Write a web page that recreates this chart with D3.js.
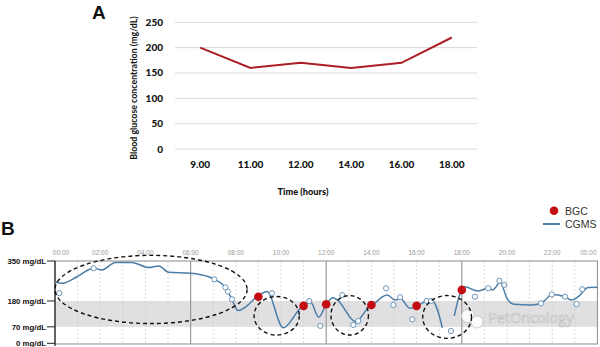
<!DOCTYPE html>
<html><head><meta charset="utf-8">
<script src="https://cdn.jsdelivr.net/npm/d3@7/dist/d3.min.js"></script>
<style>body{margin:0;background:#fff}svg{display:block}</style>
</head><body>
<svg id="c" width="600" height="347"></svg>
<script>
// ---------- Panel A data ----------
const timesA = ["9.00","11.00","12.00","14.00","16.00","18.00"];
const glucoseA = [200,160,170,160,170,220];
const yTicksA = [0,50,100,150,200,250];

// ---------- Panel B data ----------
const hourTicks = [0,2,4,6,8,10,12,14,16,18,20,22,24];
const hourTickLabels = ["00:00","02:00","04:00","06:00","08:00","10:00","12:00","14:00","16:00","18:00","20:00","22:00","00:00"];
const yTicksB = [0,70,180,350];
const yTickLabelsB = ["0 mg/dL","70 mg/dL","180 mg/dL","350 mg/dL"];
const targetRange = [70,180];
// CGMS trace: [hour, mg/dL]; null = gap in sensor data
const cgmsHours = [0,0.31,0.97,1.71,2.08,2.67,3.4,4.15,4.59,5.03,5.99,6.8,7.05,7.54,7.65,7.83,8.1,8.35,8.94,9.38,10.1,10.86,11.0,11.3,11.67,12.0,12.3,12.5,13.3,13.85,14.05,14.7,15.05,15.3,15.7,16.05,16.37,16.7,17.14,17.4,17.67,17.9,18.0,18.13,18.7,19.15,19.37,19.7,20.0,20.3,21.1,21.5,21.69,21.97,22.57,22.86,23.15,23.6,24];
const cgmsValues = [262,255,283,319,312,344,344,322,329,302,298,283,272,238,220,187,139,149,198,220,66,149,159,177,111,166,194,184,92,149,163,205,184,188,149,159,177,180,66,null,117,205,227,241,222,234,227,259,191,166,163,170,184,208,198,184,198,237,238];
// open circles (sensor readings)
const readingHours = [0.19,1.71,7.05,7.54,7.65,7.83,9.6,11.25,11.74,12.71,13.2,13.42,14.65,14.97,15.27,15.81,16.45,16.64,17.52,18.58,19.17,19.66,19.88,21.5,21.98,22.57,23.08,23.33];
const readingValues = [213,319,272,238,220,187,213,180,74,205,78,95,234,163,196,102,180,180,52,198,234,266,248,170,208,198,167,230];
// BGC (blood glucose curve) measurements
const bgcHours = [9,11,12,14,16,18];
const bgcValues = [198,159,166,163,159,227];
// annotation ellipses: centre hour, centre mg/dL, half-width (hours), half-height (mg/dL)
const ellipseHours = [4.25,9.81,13.04,17.35];
const ellipseValues = [229,117,119,112];
const ellipseHalfW = [4.25,1.0,0.83,1.08];
const ellipseHalfH = [145,82,84,91];

const svg = d3.select("#c");
const fontA = "Lato, 'Open Sans', sans-serif";
const fontB = "'Liberation Sans', Arial, sans-serif";

// ================= Panel A =================
const xA = d3.scaleBand().domain(timesA).range([175,477]).padding(0);
const yA = d3.scaleLinear().domain([0,250]).range([149,22.3]);
const gA = svg.append("g");
gA.append("g").selectAll("line").data(yTicksA).join("line")
  .attr("x1",175).attr("x2",477).attr("y1",d=>yA(d)).attr("y2",d=>yA(d))
  .attr("stroke","#d9d9d9").attr("stroke-width",1);
gA.append("g").selectAll("text").data(yTicksA).join("text")
  .attr("x",163).attr("y",d=>yA(d)).attr("dy","0.35em").attr("text-anchor","end")
  .attr("font-family",fontA).attr("font-weight","900").attr("font-size",10).attr("fill","#111")
  .text(d=>d);
gA.append("g").selectAll("text").data(timesA).join("text")
  .attr("x",d=>xA(d)+xA.bandwidth()/2).attr("y",168).attr("text-anchor","middle")
  .attr("font-family",fontA).attr("font-weight","900").attr("font-size",10).attr("fill","#111")
  .text(d=>d);
gA.append("path").datum(glucoseA.map((v,i)=>[timesA[i],v]))
  .attr("fill","none").attr("stroke","#ad1f24").attr("stroke-width",2)
  .attr("d",d3.line().x(d=>xA(d[0])+xA.bandwidth()/2).y(d=>yA(d[1])));
gA.append("text").attr("x",303).attr("y",195).attr("text-anchor","middle")
  .attr("font-family",fontA).attr("font-weight","900").attr("font-size",9.2).attr("fill","#111")
  .text("Time (hours)");
gA.append("text").attr("transform","translate(137,88) rotate(-90)").attr("text-anchor","middle")
  .attr("font-family",fontA).attr("font-weight","bold").attr("font-size",8.8).attr("fill","#111")
  .text("Blood glucose concentration (mg/dL)");
svg.append("text").attr("x",92).attr("y",18.5).attr("font-family",fontB).attr("font-weight","bold")
  .attr("font-size",19).attr("fill","#111").text("A");

// ================= Panel B =================
const x0=55, x1=597.4, yTop=261, yBot=344;
const xB = d3.scaleLinear().domain([0,24]).range([x0,x1]);
const yB = d3.scaleLinear().domain([0,350]).range([343.3,261]);
const gB = svg.append("g");
svg.append("text").attr("x",1).attr("y",235).attr("font-family",fontB).attr("font-weight","bold")
  .attr("font-size",19).attr("fill","#111").text("B");

// target band
gB.append("rect").attr("x",x0).attr("width",x1-x0)
  .attr("y",yB(targetRange[1])).attr("height",yB(targetRange[0])-yB(targetRange[1]))
  .attr("fill","#e0e0e2");
// hour gridlines
const hours = d3.range(1,24);
gB.append("g").selectAll("line").data(hours).join("line")
  .attr("x1",d=>xB(d)).attr("x2",d=>xB(d)).attr("y1",yTop).attr("y2",yBot)
  .attr("stroke",d=>d%6===0?"#9a9a9a":"#d0cdc8")
  .attr("stroke-width",d=>d%6===0?1.2:0.8)
  .attr("stroke-dasharray",d=>d%6===0?null:"2,2");
// frame
gB.append("rect").attr("x",x0).attr("y",yTop).attr("width",x1-x0).attr("height",yBot-yTop)
  .attr("fill","none").attr("stroke","#8a8a8a").attr("stroke-width",1);
gB.append("line").attr("x1",x0).attr("x2",x0).attr("y1",yTop).attr("y2",yBot+2)
  .attr("stroke","#222").attr("stroke-width",1.2);
// y ticks
gB.append("g").selectAll("line").data(yTicksB).join("line")
  .attr("x1",47).attr("x2",x0).attr("y1",d=>yB(d)).attr("y2",d=>yB(d))
  .attr("stroke","#222").attr("stroke-width",1);
gB.append("g").selectAll("text").data(yTicksB).join("text")
  .attr("x",46).attr("y",d=>yB(d)).attr("dy","0.35em").attr("text-anchor","end")
  .attr("font-family",fontB).attr("font-weight","bold").attr("font-size",7.8).attr("fill","#111")
  .text((d,i)=>yTickLabelsB[i]);
// top hour labels
gB.append("g").selectAll("text").data(hourTicks).join("text")
  .attr("x",d=>Math.min(Math.max(xB(d),x0+6),x1-9)).attr("y",255).attr("text-anchor","middle")
  .attr("font-family",fontB).attr("font-size",6.5).attr("fill","#999")
  .text((d,i)=>hourTickLabels[i]);

// watermark
const wm = gB.append("g").attr("opacity",0.95);
wm.append("circle").attr("cx",468).attr("cy",316).attr("r",6.5).attr("fill","#fff").attr("stroke","#c0c0c0").attr("stroke-width",0.8);
wm.append("circle").attr("cx",477).attr("cy",322).attr("r",6).attr("fill","#fff").attr("stroke","#c0c0c0").attr("stroke-width",0.8);
wm.append("text").attr("x",488).attr("y",323).attr("font-family","'Open Sans', sans-serif").attr("font-size",14.5)
  .attr("fill","#fff").attr("stroke","#bdbdbd").attr("stroke-width",0.7).text("PetOncology");

// CGMS line
const cgms = cgmsHours.map((h,i)=>[h,cgmsValues[i]]);
gB.append("path").datum(cgms).attr("fill","none").attr("stroke","#4b7da6").attr("stroke-width",1.5)
  .attr("stroke-linejoin","round")
  .attr("d",d3.line().defined(d=>d[1]!==null).x(d=>xB(d[0])).y(d=>yB(d[1])).curve(d3.curveMonotoneX));
// open circles
gB.append("g").selectAll("circle").data(readingHours).join("circle")
  .attr("cx",d=>xB(d)).attr("cy",(d,i)=>yB(readingValues[i])).attr("r",2.6)
  .attr("fill","#fff").attr("stroke","#6a95b8").attr("stroke-width",1);
// ellipses
gB.append("g").selectAll("ellipse").data(ellipseHours).join("ellipse")
  .attr("cx",d=>xB(d)).attr("cy",(d,i)=>yB(ellipseValues[i]))
  .attr("rx",(d,i)=>xB(ellipseHalfW[i])-xB(0)).attr("ry",(d,i)=>yB(0)-yB(ellipseHalfH[i]))
  .attr("fill","none").attr("stroke","#111").attr("stroke-width",1.4).attr("stroke-dasharray","4,3");
// BGC dots
gB.append("g").selectAll("circle").data(bgcHours).join("circle")
  .attr("cx",d=>xB(d)).attr("cy",(d,i)=>yB(bgcValues[i])).attr("r",4.3)
  .attr("fill","#c40d12");

// legend
svg.append("circle").attr("cx",554).attr("cy",210.7).attr("r",4.3).attr("fill","#c40d12");
svg.append("line").attr("x1",543).attr("x2",560).attr("y1",224).attr("y2",224).attr("stroke","#4b7da6").attr("stroke-width",2);
svg.append("text").attr("x",565).attr("y",214.5).attr("font-family",fontB).attr("font-size",10.5).attr("fill","#333").text("BGC");
svg.append("text").attr("x",565).attr("y",228).attr("font-family",fontB).attr("font-size",10.5).attr("fill","#333").text("CGMS");
</script>
</body></html>
